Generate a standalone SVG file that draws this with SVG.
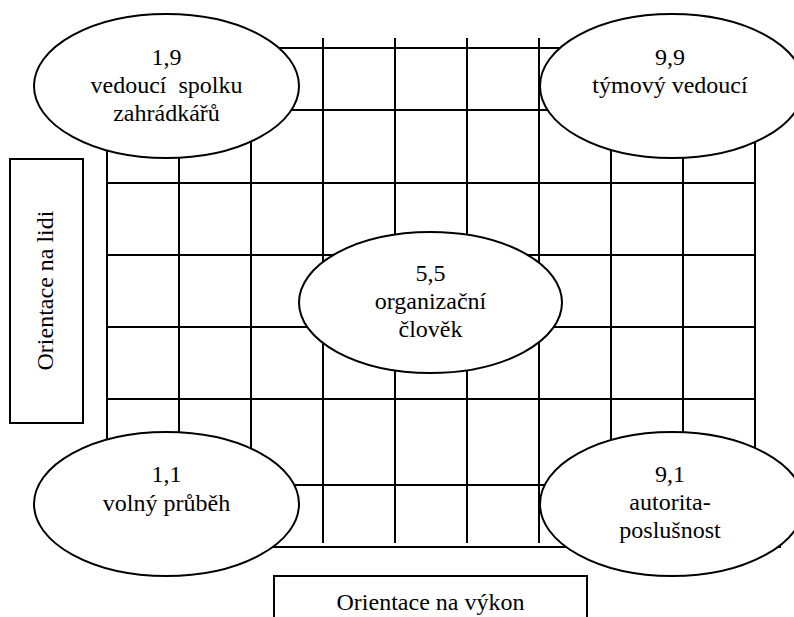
<svg xmlns="http://www.w3.org/2000/svg" width="794" height="617" viewBox="0 0 794 617">
<style>
.ln{stroke:#000;stroke-width:2;fill:none}
.el{stroke:#000;stroke-width:2;fill:#fff}
.bx{stroke:#000;stroke-width:2;fill:#fff}
text{font-family:"Liberation Serif","Times New Roman",serif;font-size:24px;fill:#000;text-anchor:middle;white-space:pre}
</style>
<rect width="794" height="617" fill="#fff"/>
<g id="grid" class="ln">
<path d="M107 38V543M179 38V543M251 38V543M323 38V543M395 38V543M467 38V543M539 38V543M611 38V543M683 38V543M755 38V543"/>
<path d="M107 48H755M107 110H755M107 183H755M107 255H755M107 327H755M107 399H755M107 485H755M107 547H781"/>
</g>
<g id="connectors"></g>
<g id="node-1-9">
<ellipse class="el" cx="166.5" cy="86" rx="132.5" ry="72"/>
<text x="166.5" y="64.5">1,9</text>
<text x="166.5" y="93">vedoucí  spolku</text>
<text x="166.5" y="121">zahrádkářů</text>
</g>
<g id="node-9-9">
<ellipse class="el" cx="672" cy="86" rx="132" ry="72"/>
<text x="670" y="64.5">9,9</text>
<text x="670" y="92.7">týmový vedoucí</text>
</g>
<g id="node-5-5">
<ellipse class="el" cx="430.5" cy="302.5" rx="131.5" ry="70.5"/>
<text x="430.5" y="280.7">5,5</text>
<text x="430.5" y="308.7">organizační</text>
<text x="430.5" y="336.7">člověk</text>
</g>
<g id="node-1-1">
<ellipse class="el" cx="166.5" cy="504" rx="132.5" ry="72"/>
<text x="166.5" y="482.3">1,1</text>
<text x="166.5" y="511">volný průběh</text>
</g>
<g id="node-9-1">
<ellipse class="el" cx="672" cy="504" rx="132" ry="72"/>
<text x="670" y="482.3">9,1</text>
<text x="670" y="510">autorita-</text>
<text x="670" y="537.5">poslušnost</text>
</g>
<g id="axis-people">
<rect class="bx" x="10" y="159" width="73" height="264"/>
<text transform="translate(53,290.5) rotate(-90)">Orientace na lidi</text>
</g>
<g id="axis-performance">
<rect class="bx" x="274" y="576" width="313" height="60"/>
<text x="430.5" y="610">Orientace na výkon</text>
</g>
</svg>
